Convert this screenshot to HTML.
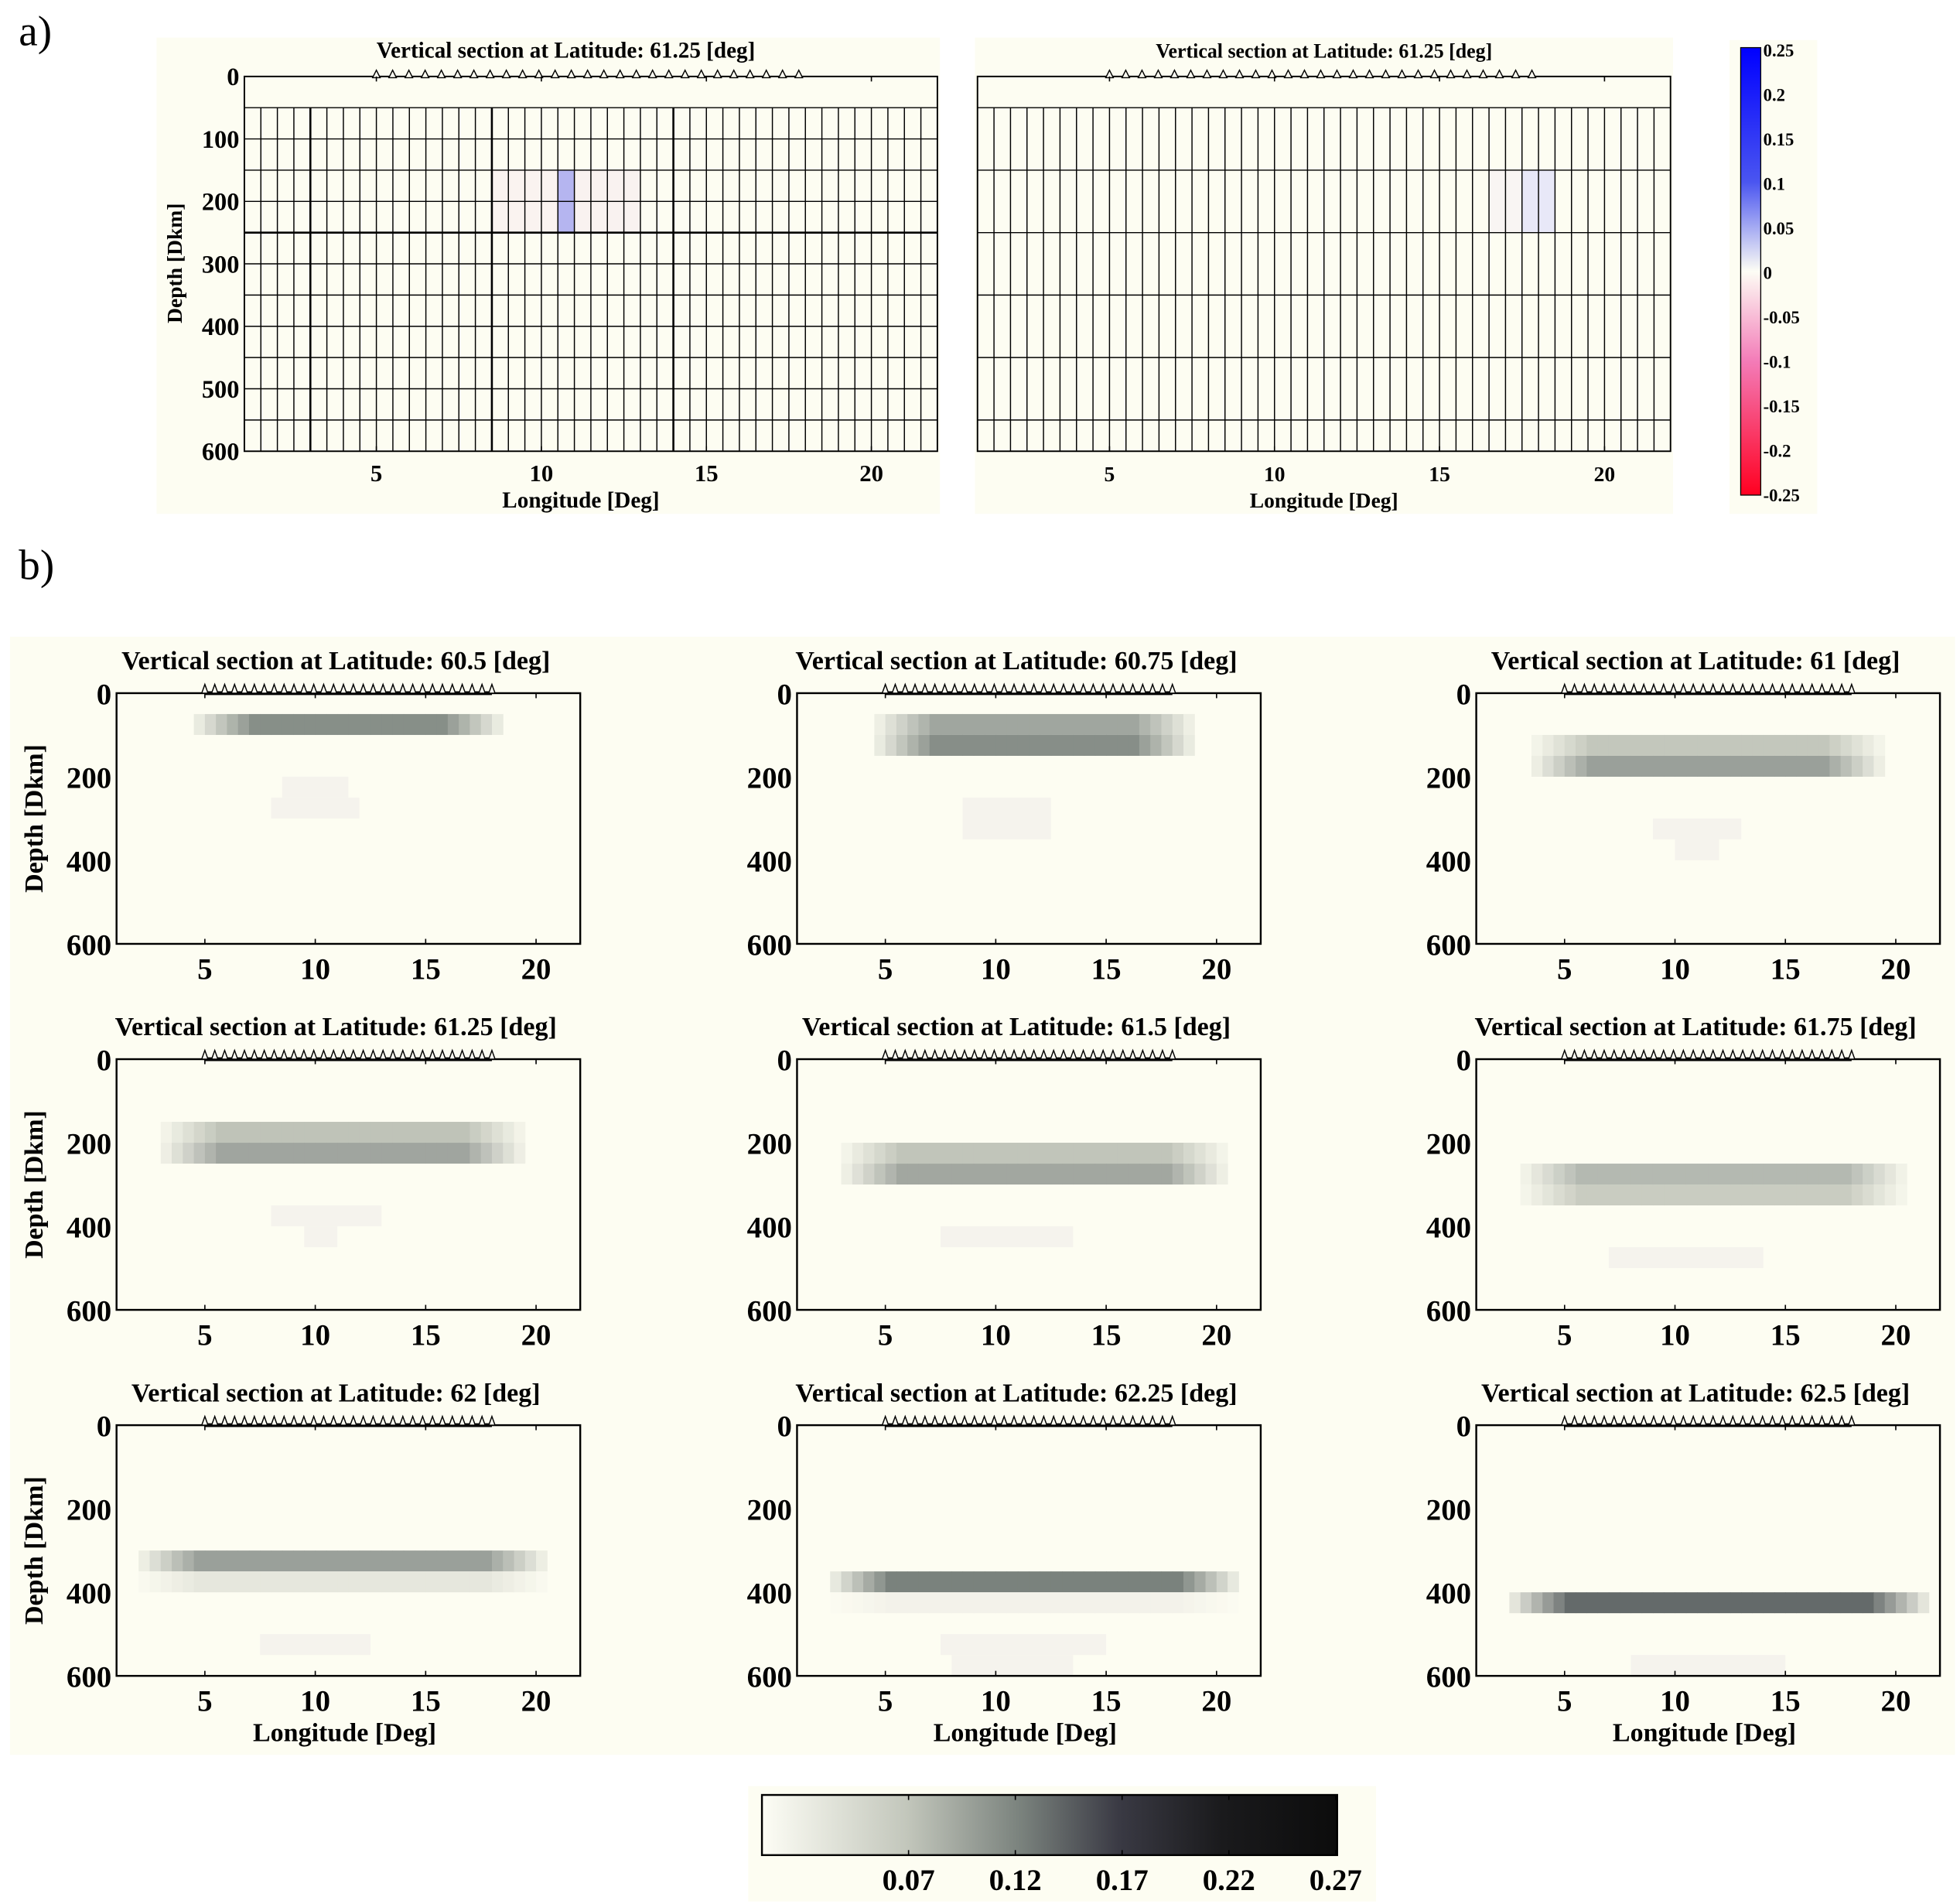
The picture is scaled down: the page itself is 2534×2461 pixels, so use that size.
<!DOCTYPE html>
<html><head><meta charset="utf-8"><style>
html,body{margin:0;padding:0;background:#fff;}
svg{display:block;}
text{font-family:"Liberation Serif",serif;font-weight:bold;fill:#000;}
</style></head><body>
<svg id="s" xmlns="http://www.w3.org/2000/svg" width="2534" height="2461" viewBox="0 0 1564 1519" preserveAspectRatio="none">
<defs>
<linearGradient id="cbA" x1="0" y1="0" x2="0" y2="1">
<stop offset="0" stop-color="#0000ff"/><stop offset="0.3" stop-color="#4a55f0"/><stop offset="0.5" stop-color="#fdfdf5"/><stop offset="0.7" stop-color="#f37cb8"/><stop offset="1" stop-color="#ff0020"/>
</linearGradient>
<linearGradient id="cbB" x1="0" y1="0" x2="1" y2="0">
<stop offset="0" stop-color="#fdfdf5"/><stop offset="0.25" stop-color="#c3c7bc"/><stop offset="0.45" stop-color="#7a827d"/><stop offset="0.62" stop-color="#3a3a44"/><stop offset="0.8" stop-color="#1a1a1c"/><stop offset="1" stop-color="#0c0c0c"/>
</linearGradient>
</defs>
<g id="g"></g>
</svg>
<script>
var g=document.getElementById('g');var out=[];
function R(x,y,w,h,f,extra){out.push('<rect x="'+x+'" y="'+y+'" width="'+w+'" height="'+h+'" fill="'+f+'" '+(extra||'')+'/>');}
function L(x1,y1,x2,y2,w){out.push('<line x1="'+x1+'" y1="'+y1+'" x2="'+x2+'" y2="'+y2+'" stroke="#000" stroke-width="'+(w||1)+'"/>');}
function T(x,y,s,sz,anc,extra){out.push('<text x="'+x+'" y="'+y+'" font-size="'+sz+'" text-anchor="'+(anc||'middle')+'" '+(extra||'')+'>'+s+'</text>');}
var CR='#fdfdf2';
T(15,36,'a)',34,'start','style="font-weight:normal"');
T(15,462,'b)',34,'start','style="font-weight:normal"');
function tri(cx,y,w,h){out.push('<path d="M'+(cx-w/2)+' '+y+'L'+cx+' '+(y-h)+'L'+(cx+w/2)+' '+y+'Z" fill="'+CR+'" stroke="#000" stroke-width="0.9"/>');}
function panelA(bx,ax,aw,title,cells,thick,hstep){
 R(bx,30,ax+aw+2-bx,380,CR);
 var y0=61,y1=360,sx=aw/21,sy=(y1-y0)/600;
 function X(l){return ax+(l-1)*sx;} function Y(d){return y0+d*sy;}
 cells.forEach(function(c){R(X(c[0]),Y(c[2]),X(c[1])-X(c[0]),Y(c[3])-Y(c[2]),c[4]);});
 for(var d=50;d<600;d+=hstep)L(ax,Y(d),ax+aw,Y(d),(d==250&&thick)?1.6:0.9);
 for(var l=1.5;l<22;l+=0.5){var t=thick&&[3,8.5,14].indexOf(l)>=0;L(X(l),Y(50),X(l),y1,t?1.6:0.9);}
 out.push('<rect x="'+ax+'" y="'+y0+'" width="'+aw+'" height="'+(y1-y0)+'" fill="none" stroke="#000" stroke-width="1.2"/>');
 for(var i=0;i<27;i++)tri(X(5)+i*(X(17.8)-X(5))/26,62,6,6);
 T(ax+aw/2-(thick?20:0),46,title,thick?18:16);
 [5,10,15,20].forEach(function(v){T(X(v),384,v,thick?19:17);L(X(v),y1,X(v),y1-4);L(X(v),y0,X(v),y0+4);});
 if(thick){[0,100,200,300,400,500,600].forEach(function(v){T(ax-4,Y(v)+7,v,20,'end');});
  T(145,210,'Depth [Dkm]',17,'middle','transform="rotate(-90 145 210)"');}
 T(ax+aw/2-(thick?8:0),405,'Longitude [Deg]',thick?18:17);
}
panelA(125,195,553,'Vertical section at Latitude: 61.25 [deg]',
 [[8.5,10.5,150,250,'#faf3f0'],[11,13,150,250,'#f9f2f0'],[10.5,11,150,250,'#b5b5f0']],true,50);
panelA(778,780,553,'Vertical section at Latitude: 61.25 [deg]',
 [[16.5,17.5,150,250,'#f9f5f3'],[17.5,18.5,150,250,'#e8e8f8']],false,100);
R(1380,32,70,378,CR);
out.push('<rect x="1389" y="38" width="16" height="357" fill="url(#cbA)" stroke="#000" stroke-width="0.8"/>');
['0.25','0.2','0.15','0.1','0.05','0','-0.05','-0.1','-0.15','-0.2','-0.25'].forEach(function(s,i){T(1407,45+i*35.5,s,14,'start');});
R(8,508,1552,892,CR);
function hex(c){return [parseInt(c.substr(1,2),16),parseInt(c.substr(3,2),16),parseInt(c.substr(5,2),16)];}
function mix(c,f){var a=hex(CR),b=hex(c);return 'rgb('+[0,1,2].map(function(i){return Math.round(a[i]+(b[i]-a[i])*f);}).join(',')+')';}
var P=[
['60.5',[[50,100,'#878f88']],4.5,18.5,[[200,250,8.5,11.5],[250,300,8,12]]],
['60.75',[[50,100,'#a0a69f'],[100,150,'#878e88']],4.5,19,[[250,350,8.5,12.5]]],
['61',[[100,150,'#c3c7bc'],[150,200,'#9aa09a']],3.5,19.5,[[300,350,9,13],[350,400,10,12]]],
['61.25',[[150,200,'#bfc3b8'],[200,250,'#a0a59f']],3,19.5,[[350,400,8,13],[400,450,9.5,11]]],
['61.5',[[200,250,'#c1c5ba'],[250,300,'#a2a7a0']],3,20.5,[[400,450,7.5,13.5]]],
['61.75',[[250,300,'#b4b9b1'],[300,350,'#c9ccc1']],3,20.5,[[450,500,7,14]]],
['62',[[300,350,'#9aa09a'],[350,400,'#e6e7dd']],2,20.5,[[500,550,7.5,12.5]]],
['62.25',[[350,400,'#7a827d'],[400,450,'#f3f2ea']],2.5,21,[[500,550,7.5,15],[550,600,8,13.5]]],
['62.5',[[400,450,'#646a6a']],2.5,21.5,[[550,600,8,15]]]];
var cols=[93,636,1178],rows=[553,845,1137];
P.forEach(function(p,k){
 var ax=cols[k%3],y0=rows[Math.floor(k/3)],aw=370,ah=200,sx=aw/21,sy=ah/600;
 function X(l){return ax+(l-1)*sx;} function Y(d){return y0+d*sy;}
 p[1].forEach(function(r){for(var l=p[2];l<p[3];l+=0.5){var f=Math.min(1,(l-p[2]+0.5)/3,(p[3]-l)/3);R(X(l),Y(r[0]),sx*0.5+0.3,Y(r[1])-Y(r[0]),mix(r[2],f));}});
 p[4].forEach(function(r){R(X(r[2]),Y(r[0]),X(r[3])-X(r[2]),Y(r[1])-Y(r[0]),'#f5f3ed');});
 out.push('<rect x="'+ax+'" y="'+y0+'" width="'+aw+'" height="'+ah+'" fill="none" stroke="#000" stroke-width="1.5"/>');
 L(X(5),y0,X(18),y0,3);
 for(var i=0;i<30;i++)tri(X(5)+i*(X(18)-X(5))/29,y0,5,7);
 T(ax+aw/2-10,y0-19,'Vertical section at Latitude: '+p[0]+' [deg]',21);
 [5,10,15,20].forEach(function(v){T(X(v),y0+ah+28,v,24);L(X(v),y0+ah,X(v),y0+ah-4);L(X(v),y0,X(v),y0+4);});
 [0,200,400,600].forEach(function(v){T(ax-4,Y(v)+9,v,24,'end');});
 if(k%3==0){var cy=y0+ah/2;T(34,cy,'Depth [Dkm]',21,'middle','transform="rotate(-90 34 '+cy+')"');}
 if(k>=6)T(ax+aw/2-3,y0+252,'Longitude [Deg]',21);
});
R(597,1425,501,92,CR);
out.push('<rect x="608" y="1432" width="459" height="48" fill="url(#cbB)" stroke="#000" stroke-width="1.5"/>');
['0.07','0.12','0.17','0.22','0.27'].forEach(function(s,i){var x=725+i*85.2;T(x,1508,s,24);L(x,1432,x,1436);L(x,1476,x,1480);});
g.innerHTML=out.join('');
</script>
</body></html>
